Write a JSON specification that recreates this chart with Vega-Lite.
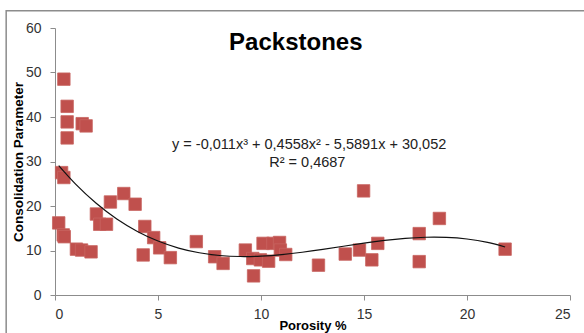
{
  "$schema": "https://vega.github.io/schema/vega-lite/v6.json",
  "width": 515,
  "height": 267,
  "autosize": {"type": "none"},
  "padding": {"left": 55, "top": 28, "right": 14, "bottom": 38},
  "background": "white",
  "config": {
    "view": {"stroke": null},
    "font": "Liberation Sans",
    "axis": {
      "grid": false,
      "domainColor": "#8c8c8c",
      "tickColor": "#8c8c8c",
      "tickSize": 5,
      "labelFont": "Liberation Sans",
      "labelFontSize": 14,
      "labelColor": "#333333",
      "titleFont": "Liberation Sans",
      "titleFontWeight": "bold",
      "titleColor": "#000000"
    }
  },
  "datasets": {
    "points": [
      {"porosity": 0.43, "cp": 48.5},
      {"porosity": 0.59, "cp": 42.4},
      {"porosity": 0.59, "cp": 38.9},
      {"porosity": 0.59, "cp": 35.3},
      {"porosity": 1.32, "cp": 38.5},
      {"porosity": 1.51, "cp": 38.0},
      {"porosity": 0.32, "cp": 27.5},
      {"porosity": 0.43, "cp": 26.4},
      {"porosity": 0.18, "cp": 16.2},
      {"porosity": 0.40, "cp": 13.5},
      {"porosity": 0.45, "cp": 13.1},
      {"porosity": 1.04, "cp": 10.3},
      {"porosity": 1.29, "cp": 10.1},
      {"porosity": 1.75, "cp": 9.7},
      {"porosity": 2.01, "cp": 18.2},
      {"porosity": 2.17, "cp": 15.9},
      {"porosity": 2.50, "cp": 15.9},
      {"porosity": 2.69, "cp": 20.9},
      {"porosity": 3.34, "cp": 22.8},
      {"porosity": 3.89, "cp": 20.4},
      {"porosity": 4.36, "cp": 15.4},
      {"porosity": 4.28, "cp": 9.0},
      {"porosity": 4.79, "cp": 12.9},
      {"porosity": 5.08, "cp": 10.6},
      {"porosity": 5.6, "cp": 8.4},
      {"porosity": 6.86, "cp": 12.0},
      {"porosity": 7.75, "cp": 8.6},
      {"porosity": 8.16, "cp": 7.1},
      {"porosity": 9.24, "cp": 10.1},
      {"porosity": 9.6, "cp": 8.2},
      {"porosity": 9.64, "cp": 4.3},
      {"porosity": 9.97, "cp": 7.9},
      {"porosity": 10.1, "cp": 11.6},
      {"porosity": 10.37, "cp": 7.6},
      {"porosity": 10.58, "cp": 11.6},
      {"porosity": 10.9, "cp": 11.8},
      {"porosity": 10.94, "cp": 10.1},
      {"porosity": 11.2, "cp": 9.1},
      {"porosity": 12.79, "cp": 6.7},
      {"porosity": 14.09, "cp": 9.2},
      {"porosity": 14.78, "cp": 10.1},
      {"porosity": 14.98, "cp": 23.4},
      {"porosity": 15.38, "cp": 7.9},
      {"porosity": 15.67, "cp": 11.6},
      {"porosity": 17.68, "cp": 13.8},
      {"porosity": 17.68, "cp": 7.5},
      {"porosity": 18.66, "cp": 17.2},
      {"porosity": 21.85, "cp": 10.3}
    ],
    "trend": [
      {"porosity": 0.18, "cp": 29.06},
      {"porosity": 1, "cp": 24.91},
      {"porosity": 2, "cp": 20.61},
      {"porosity": 3, "cp": 17.09},
      {"porosity": 4, "cp": 14.29},
      {"porosity": 5, "cp": 12.13},
      {"porosity": 6, "cp": 10.55},
      {"porosity": 7, "cp": 9.49},
      {"porosity": 8, "cp": 8.88},
      {"porosity": 9, "cp": 8.65},
      {"porosity": 10, "cp": 8.74},
      {"porosity": 11, "cp": 9.08},
      {"porosity": 12, "cp": 9.61},
      {"porosity": 13, "cp": 10.26},
      {"porosity": 14, "cp": 10.96},
      {"porosity": 15, "cp": 11.65},
      {"porosity": 16, "cp": 12.26},
      {"porosity": 17, "cp": 12.72},
      {"porosity": 18, "cp": 12.98},
      {"porosity": 19, "cp": 12.95},
      {"porosity": 20, "cp": 12.59},
      {"porosity": 21, "cp": 11.82},
      {"porosity": 21.85, "cp": 10.79}
    ]
  },
  "layer": [
    {
      "data": {"values": [{}]},
      "mark": {"type": "rect", "fill": null, "stroke": "#8c8c8c", "strokeWidth": 1.5, "clip": false},
      "encoding": {
        "x": {"datum": -2.37, "type": "quantitative", "scale": {"domain": [0, 25], "nice": false}},
        "x2": {"datum": 28},
        "y": {"datum": 63.9, "type": "quantitative", "scale": {"domain": [0, 60], "nice": false}},
        "y2": {"datum": -12}
      }
    },
    {
      "data": {"name": "points"},
      "mark": {"type": "square", "size": 155, "color": "#C0504D", "opacity": 1, "stroke": "#C86461", "strokeWidth": 0.8},
      "encoding": {
        "x": {
          "field": "porosity", "type": "quantitative",
          "scale": {"domain": [0, 25], "nice": false},
          "axis": {"values": [0, 5, 10, 15, 20, 25], "title": "Porosity %", "titleFontSize": 13, "titleY": 34, "titleBaseline": "alphabetic", "labelPadding": 7}
        },
        "y": {
          "field": "cp", "type": "quantitative",
          "scale": {"domain": [0, 60], "nice": false},
          "axis": {"values": [0, 10, 20, 30, 40, 50, 60], "title": "Consolidation Parameter", "titleFontSize": 13.5, "titleX": -37, "titleBaseline": "middle", "labelPadding": 9}
        }
      }
    },
    {
      "data": {"name": "trend"},
      "mark": {"type": "line", "color": "#111111", "strokeWidth": 1.2, "interpolate": "natural"},
      "encoding": {
        "x": {"field": "porosity", "type": "quantitative"},
        "y": {"field": "cp", "type": "quantitative"}
      }
    },
    {
      "data": {"values": [{}]},
      "mark": {"type": "text", "text": "Packstones", "font": "Liberation Sans", "fontSize": 24, "fontWeight": "bold", "align": "center", "baseline": "alphabetic", "color": "#000000"},
      "encoding": {
        "x": {"datum": 11.69, "type": "quantitative"},
        "y": {"datum": 55.15, "type": "quantitative"}
      }
    },
    {
      "data": {"values": [{}]},
      "mark": {"type": "text", "text": "y = -0,011x³ + 0,4558x² - 5,5891x + 30,052", "font": "Liberation Sans", "fontSize": 14.5, "align": "center", "baseline": "alphabetic", "color": "#222222"},
      "encoding": {
        "x": {"datum": 12.34, "type": "quantitative"},
        "y": {"datum": 32.7, "type": "quantitative"}
      }
    },
    {
      "data": {"values": [{}]},
      "mark": {"type": "text", "text": "R² = 0,4687", "font": "Liberation Sans", "fontSize": 14.5, "align": "center", "baseline": "alphabetic", "color": "#222222"},
      "encoding": {
        "x": {"datum": 12.25, "type": "quantitative"},
        "y": {"datum": 28.8, "type": "quantitative"}
      }
    }
  ]
}
